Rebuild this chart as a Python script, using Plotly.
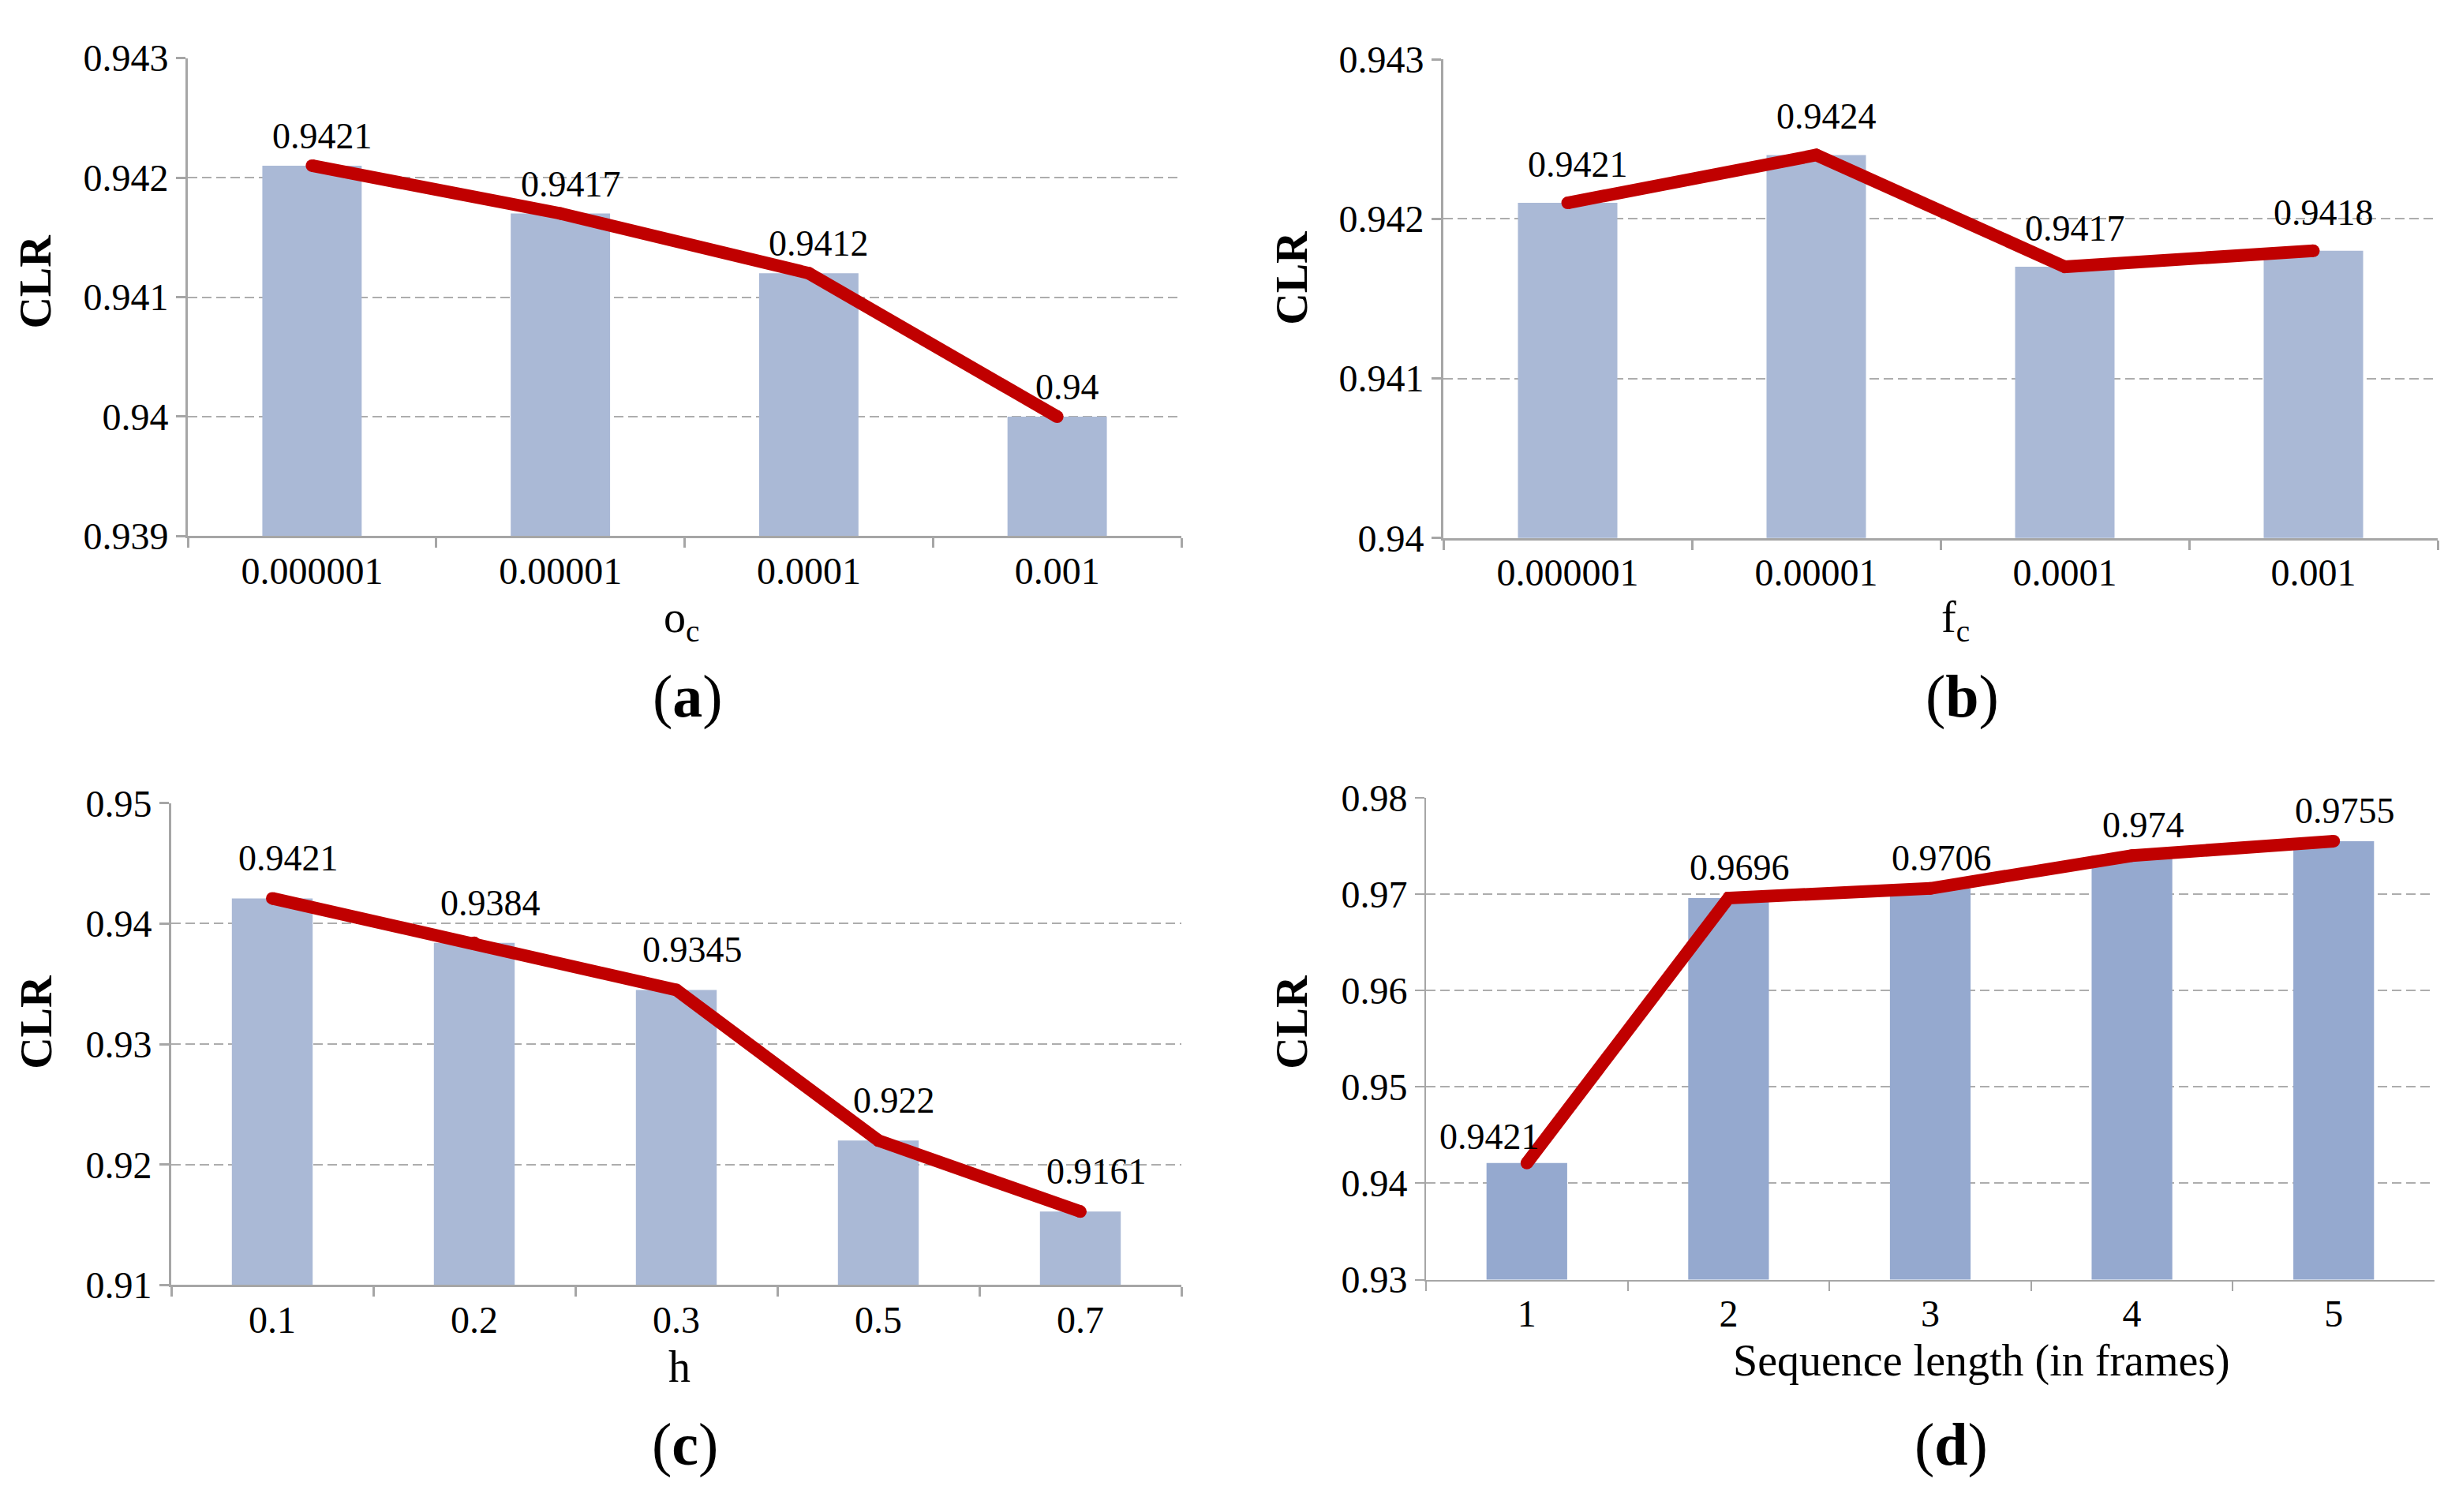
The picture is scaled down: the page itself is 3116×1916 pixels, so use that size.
import plotly.graph_objects as go

W, H = 3116, 1916

# data
a_cats = ["0.000001", "0.00001", "0.0001", "0.001"]
a_vals = [0.9421, 0.9417, 0.9412, 0.94]
b_cats = ["0.000001", "0.00001", "0.0001", "0.001"]
b_vals = [0.9421, 0.9424, 0.9417, 0.9418]
c_cats = ["0.1", "0.2", "0.3", "0.5", "0.7"]
c_vals = [0.9421, 0.9384, 0.9345, 0.922, 0.9161]
d_cats = ["1", "2", "3", "4", "5"]
d_vals = [0.9421, 0.9696, 0.9706, 0.974, 0.9755]

FONT = "Liberation Serif"
RED = "#C00000"

fig = go.Figure()


# pixel position in the 3116x1916 picture -> paper fraction
def px_x(v):
    return v / W


def px_y(v):
    return 1 - v / H


panels = [
    dict(cats=a_cats, vals=a_vals, yr=[0.939, 0.943], dt=0.001, xd=(238, 1497), yd=(49, 672),
         bar="#AAB9D6", dx=13, dy=10, thin=False),
    dict(cats=b_cats, vals=b_vals, yr=[0.94, 0.943], dt=0.001, xd=(1829, 3089), yd=(50.5, 674.5),
         bar="#AAB9D6", dx=13, dy=21, thin=False),
    dict(cats=c_cats, vals=c_vals, yr=[0.91, 0.95], dt=0.01, xd=(217, 1497), yd=(1020, 1648),
         bar="#AAB9D6", dx=20, dy=23, thin=False),
    dict(cats=d_cats, vals=d_vals, yr=[0.93, 0.98], dt=0.01, xd=(1807, 3085), yd=(1013, 1641),
         bar="#95A9CF", dx=14, dy=11, thin=True),
]

annotations = []
for i, p in enumerate(panels, start=1):
    xa = "x" if i == 1 else "x%d" % i
    ya = "y" if i == 1 else "y%d" % i
    fig.add_trace(go.Bar(x=p["cats"], y=p["vals"], width=0.4, marker_color=p["bar"],
                         marker_line_width=0, xaxis=xa, yaxis=ya, showlegend=False))
    fig.add_trace(go.Scatter(x=p["cats"], y=p["vals"], mode="lines+markers",
                             line=dict(color=RED, width=16),
                             marker=dict(color=RED, size=16),
                             xaxis=xa, yaxis=ya, showlegend=False))
    lw = 2 if p["thin"] else 3
    gw = 1.5 if p["thin"] else 2
    fig.layout["xaxis%d" % i] = dict(
        domain=[px_x(p["xd"][0]), px_x(p["xd"][1])], anchor=ya, type="category",
        showline=True, linecolor="#A6A6A6", linewidth=lw, ticks="outside",
        tickson="boundaries", ticklen=12, tickwidth=lw, tickcolor="#A6A6A6",
        showgrid=False, tickfont=dict(family=FONT, size=48, color="black"))
    fig.layout["yaxis%d" % i] = dict(
        domain=[px_y(p["yd"][1]), px_y(p["yd"][0])], anchor=xa, range=p["yr"],
        tick0=p["yr"][0], dtick=p["dt"], showgrid=True, gridcolor="#ADADAD",
        gridwidth=gw, griddash="12px,6px", showline=True, linecolor="#A6A6A6",
        linewidth=lw, ticks="outside", ticklen=12, tickwidth=lw, tickcolor="#A6A6A6",
        zeroline=False, tickfont=dict(family=FONT, size=48, color="black"))
    # value labels above the line points
    for j, v in enumerate(p["vals"]):
        xs, ys = p["dx"], p["dy"]
        if p["thin"] and j == 0:
            xs, ys = -47, 6
        annotations.append(dict(x=j, y=v, xref=xa, yref=ya, text=f"{v:g}",
                                showarrow=False, xanchor="center", yanchor="bottom",
                                xshift=xs, yshift=ys,
                                font=dict(family=FONT, size=46, color="black")))

# y titles
for cx, cy in [(45, 341), (1637, 336), (46, 1306), (1637, 1306)]:
    annotations.append(dict(x=px_x(cx), y=px_y(cy), xref="paper", yref="paper",
                            text="<b>CLR</b>", textangle=-90, showarrow=False,
                            xanchor="center", yanchor="middle",
                            font=dict(family=FONT, size=56, color="black")))

# x titles
for txt, cx, top in [("o<sub>c</sub>", 863, 744), ("f<sub>c</sub>", 2478, 744),
                     ("h", 861, 1721), ("Sequence length (in frames)", 2511, 1712)]:
    annotations.append(dict(x=px_x(cx), y=px_y(top), xref="paper", yref="paper",
                            text=txt, showarrow=False, xanchor="center", yanchor="top",
                            font=dict(family=FONT, size=56, color="black")))

# panel letters
for txt, cx, top in [("a", 871, 835), ("b", 2486, 835), ("c", 868, 1810), ("d", 2472, 1810)]:
    annotations.append(dict(x=px_x(cx), y=px_y(top), xref="paper", yref="paper",
                            text="(<b>%s</b>)" % txt, showarrow=False, xanchor="center",
                            yanchor="top", font=dict(family=FONT, size=76, color="black")))

fig.update_layout(width=W, height=H, margin=dict(l=0, r=0, t=0, b=0),
                  paper_bgcolor="white", plot_bgcolor="white", bargap=0.6,
                  annotations=annotations, font=dict(family=FONT))

# drop the default page margin so the figure sits at the window corner
fig.write_html("out.html", config={"displayModeBar": False},
               post_script="document.body.style.margin='0';")
